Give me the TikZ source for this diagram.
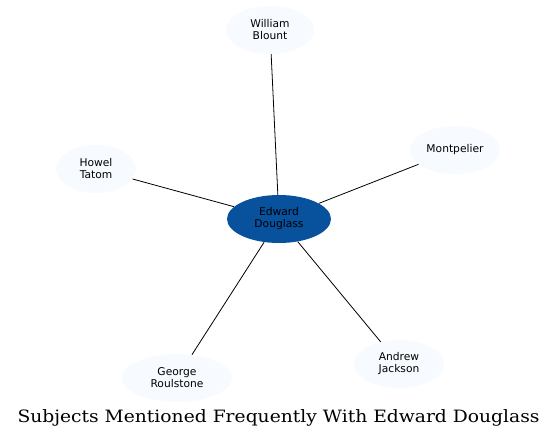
\documentclass[tikz,border=0pt]{standalone}
\usepackage{fontspec}
\setmainfont{DejaVu Serif}
\newfontfamily\labelfont{DejaVu Sans}
\usetikzlibrary{shapes.geometric}
\definecolor{leaffill}{HTML}{F7FBFF}
\definecolor{hubfill}{HTML}{08519C}
\begin{document}
\begin{tikzpicture}[x=1pt,y=-1pt,
  leaf/.style={ellipse, fill=leaffill, draw=none, inner sep=0pt,
    font=\labelfont\fontsize{10.7}{12}\selectfont, align=center},
  hub/.style={leaf, fill=hubfill},
  link/.style={draw=black, line width=0.8pt}]
\useasboundingbox (0,0) rectangle (557,439);
\node[hub, minimum width=104pt, minimum height=48pt] (ed) at (279,219) {Edward\\Douglass};
\node[leaf, minimum width=88pt, minimum height=48pt] (wb) at (270,30) {William\\Blount};
\node[leaf, minimum width=80pt, minimum height=48pt] (ht) at (96,169) {Howel\\Tatom};
\node[leaf, minimum width=90pt, minimum height=48pt] (mp) at (455,150) {Montpelier};
\node[leaf, minimum width=110pt, minimum height=48pt] (gr) at (177,378) {George\\Roulstone};
\node[leaf, minimum width=90pt, minimum height=48pt] (aj) at (399,364) {Andrew\\Jackson};
\draw[link] (ed) -- (wb);
\draw[link] (ed) -- (ht);
\draw[link] (ed) -- (mp);
\draw[link] (ed) -- (gr);
\draw[link] (ed) -- (aj);
\node[font=\fontsize{17}{19}\selectfont, anchor=base, inner sep=0pt] (title) at (278.5,422.5) {\scalebox{1.1}[1]{Subjects Mentioned Frequently With Edward Douglass}};
\end{tikzpicture}
\end{document}
